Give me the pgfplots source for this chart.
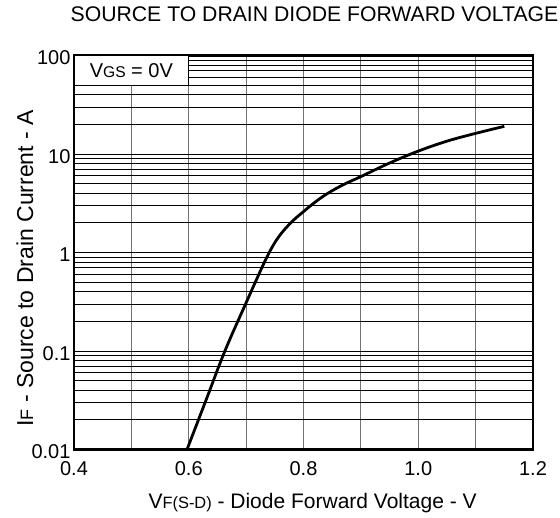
\documentclass[border=0pt]{standalone}
\usepackage{fontspec}
\setmainfont{Liberation Sans}
\usepackage{pgfplots}
\pgfplotsset{compat=1.18}
\newcommand{\sub}[1]{{\fontsize{0.78em}{1em}\selectfont #1}}
\begin{document}
\begin{tikzpicture}
\useasboundingbox (-74bp,-68.5bp) rectangle (486bp,449.5bp);
\begin{axis}[
  at={(0,0)}, anchor=south west,
  scale only axis, width=459bp, height=394bp,
  xmin=0.4, xmax=1.2, ymode=log, ymin=0.01, ymax=100,
  xtick={0.4,0.6,0.8,1.0,1.2}, minor xtick={0.5,0.7,0.9,1.1},
  xticklabels={0.4,0.6,0.8,1.0,1.2},
  ytick={0.01,0.1,1,10,100}, yticklabels={0.01,0.1,1,10,100},
  minor ytick={0.02,0.03,0.04,0.05,0.06,0.07,0.08,0.09,
               0.2,0.3,0.4,0.5,0.6,0.7,0.8,0.9,
               2,3,4,5,6,7,8,9,
               20,30,40,50,60,70,80,90},
  grid=both,
  major x grid style={draw=black!55, line width=1.2bp},
  minor x grid style={draw=black!55, line width=1.2bp},
  major y grid style={draw=black, line width=0.9bp},
  minor y grid style={draw=black, line width=0.9bp},
  major tick length=0pt, minor tick length=0pt,
  axis line style={line width=2.2bp},
  /pgf/number format/assume math mode=true,
  ticklabel style={font=\fontsize{20bp}{22bp}\selectfont},
  xticklabel style={yshift=-9bp},
  yticklabel style={yshift=-2.5bp},
  title={SOURCE TO DRAIN DIODE FORWARD VOLTAGE},
  title style={font=\fontsize{21.2bp}{23bp}\selectfont, at={(axis description cs:0.524,1.0716)}, anchor=base},
  xlabel={V\sub{F(S-D)} - Diode Forward Voltage - V},
  xlabel style={font=\fontsize{21bp}{23bp}\selectfont, at={(axis description cs:0.52,-0.1485)}, anchor=base},
  ylabel={I\sub{F} - Source to Drain Current - A},
  ylabel style={font=\fontsize{23bp}{25bp}\selectfont, at={(axis description cs:-0.0893,0.46)}, anchor=base},
]
\addplot[black, line width=2.8bp, smooth, tension=0.6] coordinates {
(0.597,0.0100)
(0.630,0.0316)
(0.663,0.100)
(0.700,0.309)
(0.720,0.562)
(0.735,0.87)
(0.750,1.26)
(0.765,1.66)
(0.783,2.14)
(0.800,2.60)
(0.820,3.24)
(0.842,3.98)
(0.870,4.90)
(0.900,5.90)
(0.950,8.10)
(1.000,10.7)
(1.050,13.5)
(1.100,16.2)
(1.150,19.1)
};
\draw[fill=white, line width=1.2bp] (axis cs:0.4,50) rectangle (axis cs:0.6,100);
\node[font=\fontsize{20bp}{22bp}\selectfont] at (axis cs:0.5,70.7) {V\sub{GS} = 0V};
\end{axis}
\end{tikzpicture}
\end{document}
